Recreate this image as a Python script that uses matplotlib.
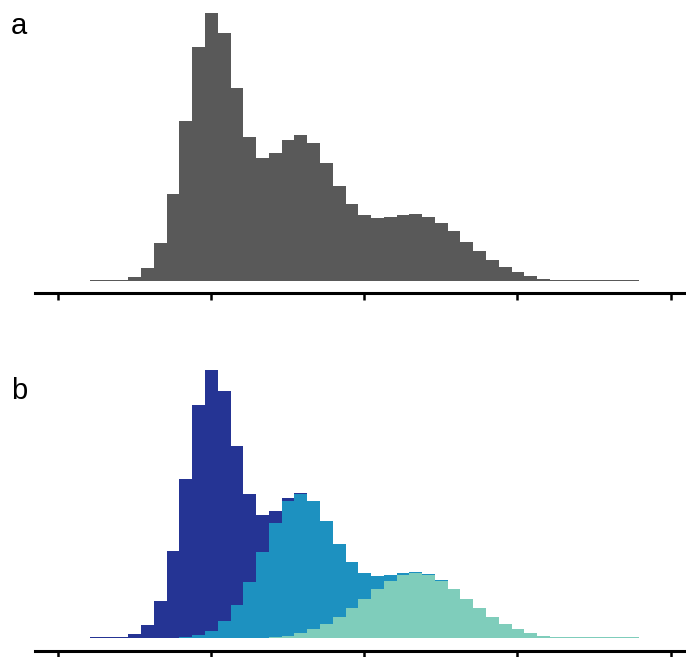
import numpy as np
import matplotlib
matplotlib.use("Agg")
import matplotlib.pyplot as plt

plt.rcParams['font.family'] = ['Liberation Sans', 'DejaVu Sans']

# ---- data (bin heights, arbitrary count units) ----
bin_start = 0.212
bin_width = 1 / 12
n_bins = 43

comp_dark = [1.0, 1.0, 1.2, 4.0, 12.7, 37.4, 86.7, 158.4, 230.4, 260.7, 230.4,
             159.4, 87.7, 36.4, 12.4, 3.4, 1.2, 0.6, 0.3, 0.2, 0, 0, 0, 0, 0,
             0, 0, 0, 0, 0, 0, 0, 0, 0, 0, 0, 0, 0, 0, 0, 0, 0, 0]
comp_mid = [0, 0, 0, 0, 0.3, 0.3, 0.3, 1.3, 3.3, 7.3, 17.2, 33.2, 56.1, 86.0,
            114.0, 135.0, 139.2, 127.8, 103.1, 73.2, 46.4, 26.4, 13.4, 6.4,
            2.4, 1.4, 0.8, 0.6, 0.3, 0, 0, 0, 0, 0, 0, 0, 0, 0, 0, 0, 0, 0, 0]
comp_light = [0, 0, 0, 0, 0, 0, 0, 0, 0, 0, 0.1, 0.1, 0.2, 0.4, 1.3, 2.3, 5.3,
              9.3, 14.3, 21.3, 30.3, 39.3, 49.3, 57.3, 63.3, 65.3, 63.3, 57.3,
              49.3, 39.3, 30.3, 21.3, 14.3, 9.3, 5.3, 2.3, 1.3, 1.0, 1.0, 1.0,
              1.0, 1.0, 1.0]

ticks = [0, 1, 2, 3, 4]
panel_labels = ['a', 'b']

grey = '#595959'
c_dark = '#253494'
c_mid = '#1d91c0'
c_light = '#7fcdbb'

# ---- derived ----
edges = bin_start + bin_width * np.arange(n_bins + 1)
lefts = edges[:-1]
dark = np.array(comp_dark)
mid = np.array(comp_mid)
light = np.array(comp_light)
total = dark + mid + light

W, H = 686, 657
fig = plt.figure(figsize=(W / 100, H / 100), dpi=100)

def make_ax(spine_y):
    ax = fig.add_axes([35 / W, (H - spine_y) / H, 1 - 35 / W, 283 / H])
    ax.set_xlim(-0.147, 4.1)
    ax.set_ylim(-12.5, 270.5)
    for s in ['top', 'right', 'left']:
        ax.spines[s].set_visible(False)
    ax.spines['bottom'].set_linewidth(2.2)
    ax.spines['bottom'].set_color('black')
    ax.set_yticks([])
    ax.set_xticks(ticks)
    ax.set_xticklabels([])
    ax.tick_params(axis='x', direction='out', length=5, width=1.8, color='black')
    return ax

ax_a = make_ax(293.3)
ax_a.bar(lefts, total, width=bin_width, align='edge', color=grey, linewidth=0)

ax_b = make_ax(650.7)
ax_b.bar(lefts, light, width=bin_width, align='edge', color=c_light, linewidth=0)
ax_b.bar(lefts, mid, width=bin_width, align='edge', bottom=light, color=c_mid, linewidth=0)
ax_b.bar(lefts, dark, width=bin_width, align='edge', bottom=light + mid, color=c_dark, linewidth=0)

fig.text(11 / W, 1 - 34 / H, panel_labels[0], fontsize=21, ha='left', va='baseline')
fig.text(11 / W, 1 - 399 / H, panel_labels[1], fontsize=21, ha='left', va='baseline')

fig.savefig('out.png', dpi=100)
